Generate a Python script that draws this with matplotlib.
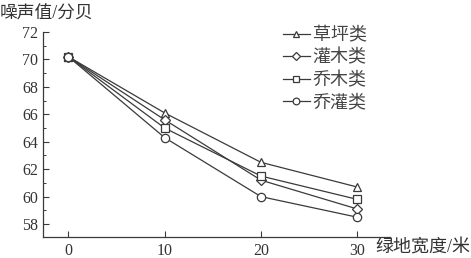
import numpy as np
import matplotlib.pyplot as plt
from matplotlib.ticker import MultipleLocator

plt.rcParams['font.family'] = ['Liberation Serif', 'Noto Sans CJK SC']

width = [0, 10, 20, 30]
lawn = [70.2, 66.1, 62.5, 60.7]
shrub = [70.2, 65.6, 61.2, 59.1]
tree = [70.2, 65.0, 61.5, 59.8]
tree_shrub = [70.2, 64.3, 60.0, 58.5]

series = [
    ("草坪类", lawn, "^"),
    ("灌木类", shrub, "D"),
    ("乔木类", tree, "s"),
    ("乔灌类", tree_shrub, "o"),
]

ink = "#3a3a3a"

fig = plt.figure(figsize=(4.71, 2.58), dpi=100)
ax = fig.add_axes([0.092, 0.081, 0.736, 0.795])

for name, vals, mk in series:
    ms = 4.8 if mk == "D" else 6
    ax.plot(width, vals, color=ink, lw=0.9, marker=mk, ms=ms,
            mfc="white", mec=ink, mew=0.9, label=name)

ax.set_xlim(-2.6, 33.4)
ax.set_ylim(57.05, 72)
ax.set_xticks(width)
ax.yaxis.set_major_locator(MultipleLocator(2))
ax.yaxis.set_minor_locator(MultipleLocator(1))

for s in ("top", "right"):
    ax.spines[s].set_visible(False)
for s in ("left", "bottom"):
    ax.spines[s].set_color(ink)
    ax.spines[s].set_linewidth(0.9)

ax.tick_params(which="major", direction="in", length=4, width=0.8, color=ink,
               labelsize=11.5, labelcolor="#333333", pad=4)
ax.tick_params(which="minor", direction="in", length=2.5, width=0.7, color=ink)
ax.tick_params(axis="x", which="minor", length=0)

fig.text(0.0, 0.98, "噪声值/分贝", fontsize=12.8, color="#333333",
         ha="left", va="top")
fig.text(0.797, 0.04, "绿地宽度/米", fontsize=13, color="#333333",
         ha="left", va="center")

leg = ax.legend(loc="upper left", bbox_to_anchor=(0.67, 1.06), frameon=False,
                fontsize=13, handlelength=1.5, handletextpad=0.15,
                labelspacing=0.3, borderaxespad=0, markerscale=0.8)
for t in leg.get_texts():
    t.set_color("#444444")

fig.savefig("out.png", dpi=100)
